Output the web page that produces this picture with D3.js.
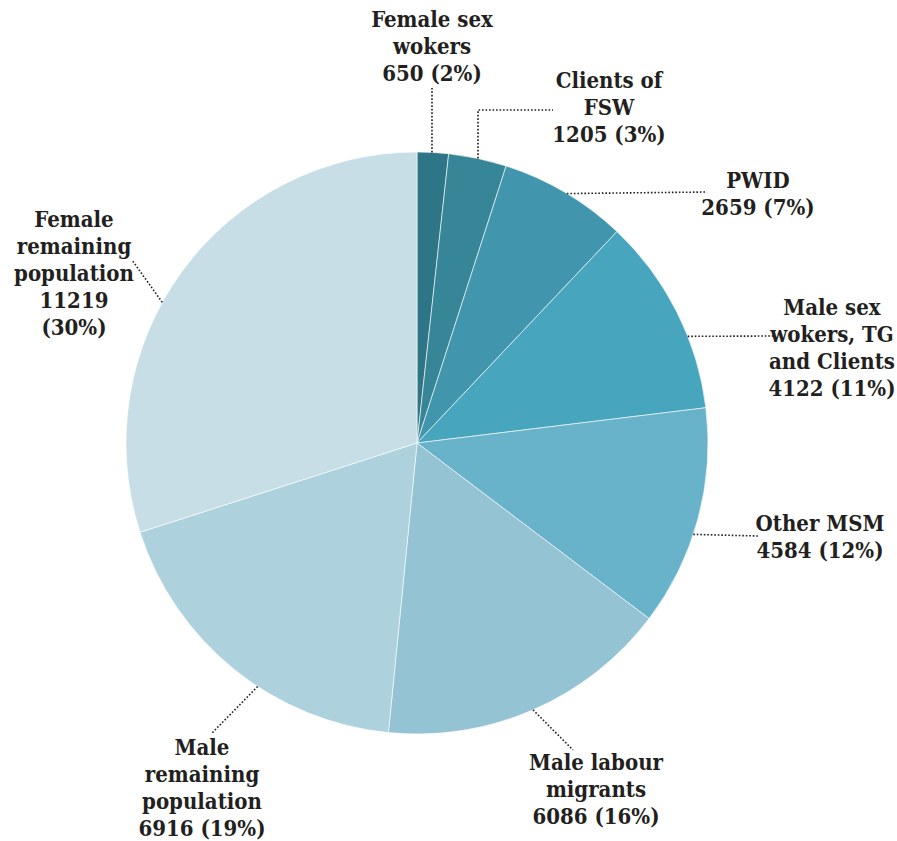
<!DOCTYPE html>
<html>
<head>
<meta charset="utf-8">
<script src="https://cdn.jsdelivr.net/npm/d3@7"></script>
<style>
  body { margin: 0; background: #fff; }
  text { font-family: "DejaVu Serif Condensed", "DejaVu Serif", serif; font-stretch: condensed; font-weight: bold; fill: #231f20; }
</style>
</head>
<body>
<div id="pie"></div>
<script>
// data
var groups = ["Female sex workers", "Clients of FSW", "PWID", "Male sex workers, TG and Clients",
              "Other MSM", "Male labour migrants", "Male remaining population", "Female remaining population"];
var values = [650, 1205, 2659, 4122, 4584, 6086, 6916, 11219];
var percents = [2, 3, 7, 11, 12, 16, 19, 30];
var labelLines = [
  ["Female sex", "wokers", "650 (2%)"],
  ["Clients of", "FSW", "1205 (3%)"],
  ["PWID", "2659 (7%)"],
  ["Male sex", "wokers, TG", "and Clients", "4122 (11%)"],
  ["Other MSM", "4584 (12%)"],
  ["Male labour", "migrants", "6086 (16%)"],
  ["Male", "remaining", "population", "6916 (19%)"],
  ["Female", "remaining", "population", "11219", "(30%)"]
];
var colors = ["#2f7588", "#378698", "#4196ae", "#48a5be", "#68b2ca", "#94c3d4", "#add1dd", "#c7dee6"];

// layout
var width = 897, height = 841;
var cx = 417, cy = 443, radius = 291;
var lineHeight = 27;

// label placement: text centre x, first baseline, leader anchor angle (deg), leader points
var labelPos = [
  {x: 432, y: 27,  ang: 2.95,  pts: [[432, 88]]},
  {x: 609, y: 88,  ang: 12.1,  pts: [[478, 110], [553, 110]]},
  {x: 758, y: 188, ang: 31.0,  pts: [[707, 192]]},
  {x: 832, y: 315, ang: 68.5,  pts: [[775, 336]]},
  {x: 820, y: 531, ang: 108.3, pts: [[758, 536]]},
  {x: 596, y: 770, ang: 156.5, pts: [[573, 750]]},
  {x: 202, y: 755, ang: 213.2, pts: [[212, 733]]},
  {x: 74,  y: 227, ang: 298.9, pts: [[132, 260]]}
];

var svg = d3.select("#pie")
  .append("svg")
    .attr("width", width)
    .attr("height", height);

var g = svg.append("g")
    .attr("transform", "translate(" + cx + "," + cy + ")");

var pie = d3.pie().sort(null).value(function(d) { return d; });
var arc = d3.arc().innerRadius(0).outerRadius(radius);

g.selectAll("path.slice")
  .data(pie(values))
  .enter()
  .append("path")
    .attr("class", "slice")
    .attr("d", arc)
    .style("fill", function(d, i) { return colors[i]; })
    .style("stroke", "#ffffff")
    .style("stroke-width", 0.6);

// leader lines
var line = d3.line();
svg.selectAll("path.leader")
  .data(labelPos)
  .enter()
  .append("path")
    .attr("class", "leader")
    .attr("d", function(d) {
      var a = d.ang * Math.PI / 180;
      var start = [cx + radius * Math.sin(a), cy - radius * Math.cos(a)];
      return line([start].concat(d.pts));
    })
    .style("fill", "none")
    .style("stroke", "#231f20")
    .style("stroke-width", 1.6)
    .style("stroke-dasharray", "1.6,1.9");

// labels
labelLines.forEach(function(lines, i) {
  var p = labelPos[i];
  var t = svg.append("text")
    .attr("text-anchor", "middle")
    .style("font-size", "22px");
  lines.forEach(function(s, j) {
    t.append("tspan")
      .attr("x", p.x)
      .attr("y", p.y + j * lineHeight)
      .text(s);
  });
});
</script>
</body>
</html>
